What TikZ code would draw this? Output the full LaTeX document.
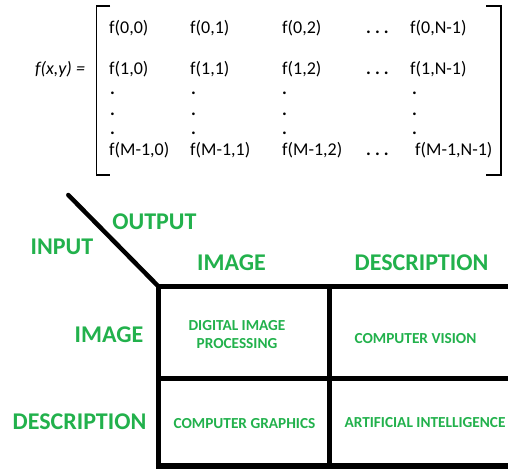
\documentclass[tikz,border=0pt]{standalone}
\usepackage{fontspec}
\setmainfont{Carlito}
\definecolor{lbl}{HTML}{22B14C}
\newcommand{\mydots}{\textbf{.}\kern4pt\textbf{.}\kern4pt\textbf{.}}
\begin{document}
\begin{tikzpicture}[x=1pt,y=-1pt,
  mtx/.style={anchor=base west,inner sep=0pt,font=\fontsize{18}{20}\selectfont},
  big/.style={inner sep=0pt,text=lbl,font=\fontsize{24}{26}\selectfont\bfseries},
  small/.style={inner sep=0pt,text=lbl,align=center,font=\fontsize{15.3}{17.5}\selectfont\bfseries},
  grid/.style={line width=5.5pt},
  brk/.style={line width=1.8pt}]
\useasboundingbox (0,0) rectangle (508,468);
% matrix
\node[mtx,font=\fontsize{18}{20}\selectfont\itshape] (fxy) at (35,75) {f(x,y) =};
\draw[brk] (110,6) -- (96.5,6) -- (96.5,175) -- (110,175);
\draw[brk] (486,6) -- (501,6) -- (501,175) -- (486,175);
\node[mtx] (a00) at (109,33.5) {f(0,0)};
\node[mtx] (a01) at (190,33.5) {f(0,1)};
\node[mtx] (a02) at (282,33.5) {f(0,2)};
\node[mtx] (a03) at (366,33.5) {\mydots};
\node[mtx] (a04) at (410,33.5) {f(0,N-1)};
\node[mtx] (a10) at (109,75) {f(1,0)};
\node[mtx] (a11) at (190,75) {f(1,1)};
\node[mtx] (a12) at (282,75) {f(1,2)};
\node[mtx] (a13) at (366,75) {\mydots};
\node[mtx] (a14) at (410,75) {f(1,N-1)};
\foreach \yy/\nm in {95/d1,115/d2,135/d3}{
  \node[mtx] (\nm a) at (110,\yy) {\textbf{.}};
  \node[mtx] (\nm b) at (191,\yy) {\textbf{.}};
  \node[mtx] (\nm c) at (282,\yy) {\textbf{.}};
  \node[mtx] (\nm d) at (412,\yy) {\textbf{.}};
}
\node[mtx] (m0) at (109,155) {f(M-1,0)};
\node[mtx] (m1) at (190,155) {f(M-1,1)};
\node[mtx] (m2) at (282,155) {f(M-1,2)};
\node[mtx] (m3) at (366,155) {\mydots};
\node[mtx] (m4) at (415,155) {f(M-1,N-1)};
% table lines
\coordinate (dtop) at (68.3,195);
\coordinate (corner) at (158.5,286.5);
\draw[line width=4.5pt,line cap=round] (dtop) -- (corner);
\draw[grid] (155.75,286.5) -- (508,286.5);
\draw[grid] (158.5,284) -- (158.5,468);
\draw[grid] (329.7,286.5) -- (329.7,468);
\draw[grid] (158.5,378.5) -- (508,378.5);
\draw[grid] (155.75,466) -- (508,466);
% labels
\node[big] (out) at (154.5,222) {OUTPUT};
\node[big] (inp) at (62,247) {INPUT};
\node[big] (cimg) at (231.5,263) {IMAGE};
\node[big] (cdesc) at (421.5,263) {DESCRIPTION};
\node[big] (rimg) at (109,335) {IMAGE};
\node[big] (rdesc) at (79.5,422) {DESCRIPTION};
\node[small] (dip) at (237,334.5) {DIGITAL IMAGE\\PROCESSING};
\node[small] (cv) at (415.5,339) {COMPUTER VISION};
\node[small] (cg) at (244.5,424) {COMPUTER GRAPHICS};
\node[small] (ai) at (425,423) {ARTIFICIAL INTELLIGENCE};
\end{tikzpicture}
\end{document}
